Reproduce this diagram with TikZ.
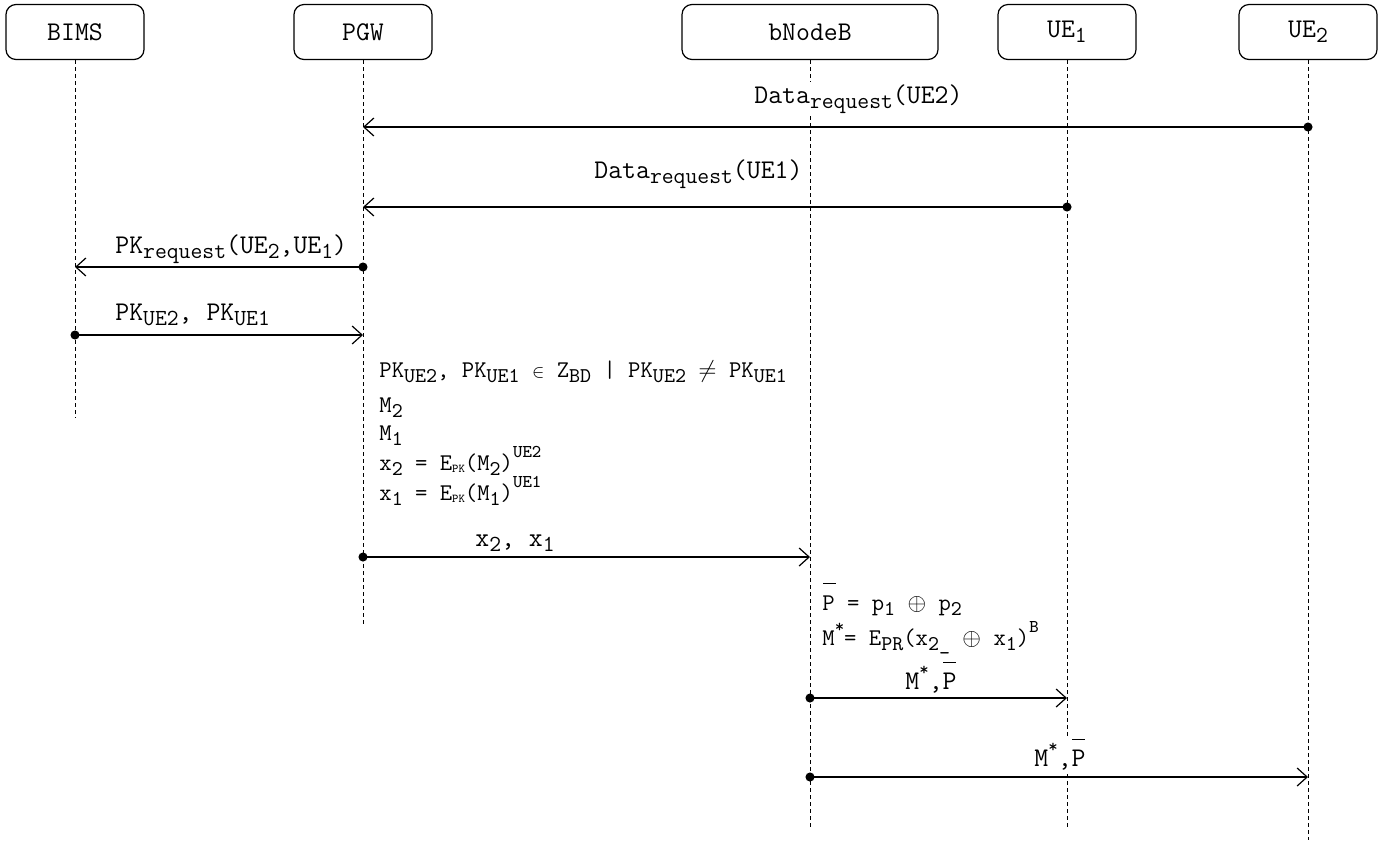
\documentclass[tikz,border=0pt]{standalone}
\usepackage{fontspec}
\usetikzlibrary{arrows.meta}
\def\subsz{11.5}
\newcommand{\sbs}[1]{\raisebox{-2.5pt}{\fontsize{\subsz}{\subsz}\selectfont #1}}
\newcommand{\sps}[1]{\raisebox{1.2ex}{\fontsize{9}{9}\selectfont #1}}
\newcommand{\tny}[1]{\raisebox{-0.2ex}{\fontsize{6}{6}\selectfont #1}}
\newcommand{\pbar}{\makebox[0pt][l]{\hspace{0.3pt}\raisebox{13pt}{\rule{6.5pt}{0.6pt}}}P}
\tikzset{
  actor/.style={rectangle, draw, fill=white, rounded corners=5pt,
    minimum width=69pt, minimum height=27.5pt, line width=0.6pt,
    font=\ttfamily\fontsize{13.5}{15}\selectfont\def\subsz{11.5}},
  lifeline/.style={line width=0.5pt, dash pattern=on 2pt off 1.5pt},
  msg/.style={{Circle[length=4.5pt]}-{Straight Barb[length=5pt,width=9pt]},
    line width=0.6pt, shorten <=-2.25pt},
  lbl/.style={anchor=base west, fill=white, inner sep=1pt,
    font=\ttfamily\fontsize{13.5}{15}\selectfont\def\subsz{11.5}},
  note/.style={anchor=base west, inner sep=1pt,
    font=\ttfamily\fontsize{12}{14}\selectfont\def\subsz{10.5}}
}
\begin{document}
\begin{tikzpicture}[x=0.5pt,y=-0.5pt]
  \useasboundingbox (0,0) rectangle (1391,842);
  % participants
  \node[actor] (bims) at (75,32) {BIMS};
  \node[actor] (pgw) at (363,32) {PGW};
  \node[actor, minimum width=128pt] (bnb) at (810,32) {bNodeB};
  \node[actor] (ue1) at (1067,32) {UE\sbs{1}};
  \node[actor] (ue2) at (1308,32) {UE\sbs{2}};

  % lifelines
  \coordinate (bims-end) at (75,418);
  \coordinate (pgw-end) at (363,625);
  \coordinate (bnb-end) at (810,830);
  \coordinate (ue1-end) at (1067,830);
  \coordinate (ue2-end) at (1308,840);
  \foreach \n in {bims,pgw,bnb,ue1,ue2}
    \draw[lifeline] (\n.south) -- (\n-end);

  % messages
  \draw[msg] (ue2 |- 0,127) -- (pgw |- 0,127);
  \node[lbl] (m1) at (752,103) {Data\sbs{request}(UE2)};
  \draw[msg] (ue1 |- 0,207) -- (pgw |- 0,207);
  \node[lbl] (m2) at (592,178) {Data\sbs{request}(UE1)};
  \draw[msg] (pgw |- 0,267) -- (bims |- 0,267);
  \node[lbl] (m3) at (113,253) {PK\sbs{request}(UE\sbs{2},UE\sbs{1})};
  \draw[msg] (bims |- 0,335) -- (pgw |- 0,335);
  \node[lbl] (m4) at (113,320) {PK\sbs{UE2}, PK\sbs{UE1}};

  % PGW computations
  \node[note] (c1) at (377,377) {PK\sbs{UE2}, PK\sbs{UE1} {\small$\in$} Z\sbs{BD} | PK\sbs{UE2} $\neq$ PK\sbs{UE1}};
  \node[note] (c2) at (377,412) {M\sbs{2}};
  \node[note] (c3) at (377,440) {M\sbs{1}};
  \node[note] (c4) at (377,470) {x\sbs{2} = E\tny{PK}(M\sbs{2})\sps{UE2}};
  \node[note] (c5) at (377,500) {x\sbs{1} = E\tny{PK}(M\sbs{1})\sps{UE1}};

  \draw[msg] (pgw |- 0,557) -- (bnb |- 0,557);
  \node[lbl] (m5) at (473,546) {x\sbs{2}, x\sbs{1}};

  % bNodeB computations
  \node[note] (c6) at (820,610) {\pbar{} = p\sbs{1} $\oplus$ p\sbs{2}};
  \node[note] (c7) at (820,645) {M\sps{*}= E\sbs{PR}(x\sbs{2\_} $\oplus$ x\sbs{1})\sps{B}};

  \draw[msg] (bnb |- 0,698) -- (ue1 |- 0,698);
  \node[lbl] (m6) at (903,689) {M\sps{*},\pbar};
  \draw[msg] (bnb |- 0,777) -- (ue2 |- 0,777);
  \node[lbl] (m7) at (1032,766) {M\sps{*},\pbar};
\end{tikzpicture}
\end{document}
